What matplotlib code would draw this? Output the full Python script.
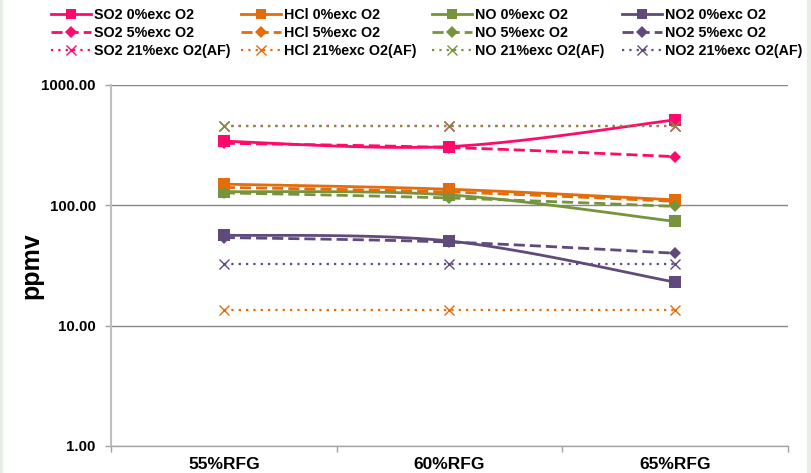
import numpy as np
import matplotlib
matplotlib.use('Agg')
import matplotlib.pyplot as plt
from matplotlib.lines import Line2D
from matplotlib.patches import Rectangle
from matplotlib.ticker import FixedLocator, NullFormatter

plt.rcParams['font.family'] = ['Liberation Sans', 'DejaVu Sans']
plt.rcParams['font.weight'] = 'bold'

# Data (ppmv)
categories = ['55%RFG', '60%RFG', '65%RFG']
species = ['SO2', 'HCl', 'NO', 'NO2']
cases = ['0%exc O2', '5%exc O2', '21%exc O2(AF)']

so2_0 = [341, 308, 513]
hcl_0 = [150, 136, 111]
no_0 = [130, 122, 73.5]
no2_0 = [56.5, 50.5, 23]

so2_5 = [328, 302, 254]
hcl_5 = [141, 129, 108]
no_5 = [127, 115, 98]
no2_5 = [54, 49.5, 40]

so2_21 = [456, 456, 456]
hcl_21 = [13.4, 13.4, 13.4]
no_21 = [456, 456, 456]
no2_21 = [32.3, 32.3, 32.3]

series = {
    ('SO2', 0): so2_0, ('HCl', 0): hcl_0, ('NO', 0): no_0, ('NO2', 0): no2_0,
    ('SO2', 1): so2_5, ('HCl', 1): hcl_5, ('NO', 1): no_5, ('NO2', 1): no2_5,
    ('SO2', 2): so2_21, ('HCl', 2): hcl_21, ('NO', 2): no_21, ('NO2', 2): no2_21,
}

colors = {'SO2': '#FF0A6C', 'HCl': '#E46C0A', 'NO': '#77933C', 'NO2': '#604A7B'}
styles = [
    dict(ls='-', lw=2.0, marker='s', ms=8, mew=0),
    dict(ls=(0, (4, 1.8)), lw=2.0, marker='D', ms=6.5, mew=0),
    dict(ls=(0, (1, 2.3)), lw=1.6, marker='x', ms=7.5, mew=1.0),
]


def smooth(xs, ys, n=40):
    # Excel-style smoothed line: bezier through points in (x, log y) space
    p = np.column_stack([xs, np.log10(ys)])
    pts = np.vstack([p[0], p, p[-1]])
    out = []
    for i in range(len(p) - 1):
        p0, p1, p2, p3 = pts[i], pts[i + 1], pts[i + 2], pts[i + 3]
        c1 = p1 + (p2 - p0) / 6.0
        c2 = p2 - (p3 - p1) / 6.0
        t = np.linspace(0, 1, n)[:, None]
        seg = ((1 - t) ** 3) * p1 + 3 * ((1 - t) ** 2) * t * c1 + 3 * (1 - t) * t ** 2 * c2 + t ** 3 * p2
        out.append(seg if i == 0 else seg[1:])
    out = np.vstack(out)
    return out[:, 0], 10 ** out[:, 1]


fig = plt.figure(figsize=(8.12, 4.73), dpi=100)
fig.patches.append(Rectangle((0.9938, 0), 0.0062, 1, transform=fig.transFigure,
                             color='#E8EDE8', zorder=0))
fig.patches.append(Rectangle((0, 0), 0.003, 1, transform=fig.transFigure,
                             color='#E8EDE8', zorder=0))
ax = fig.add_axes([0.1367, 0.0571, 0.8337, 0.7632])

x = np.arange(len(categories))
z = 3
for k in range(3):
    for sp in species:
        vals = series[(sp, k)]
        st = styles[k]
        sx, sy = smooth(x, vals)
        ax.plot(sx, sy, color=colors[sp], ls=st['ls'], lw=st['lw'],
                solid_capstyle='butt', dash_capstyle='butt', zorder=z)
        ax.plot(x, vals, ls='none', color=colors[sp], marker=st['marker'],
                ms=st['ms'], mew=st['mew'], zorder=z + 0.5)
        z += 1

ax.set_yscale('log')
ax.set_ylim(1, 1000)
ax.set_xlim(-0.5, 2.5)
ax.yaxis.set_major_locator(FixedLocator([1, 10, 100, 1000]))
ax.yaxis.set_minor_locator(FixedLocator([]))
ax.set_yticklabels(['1.00', '10.00', '100.00', '1000.00'])
ax.tick_params(axis='y', which='major', direction='out', length=4, width=1,
               color='#A0A0A0', labelsize=10.8, pad=7)
ax.grid(axis='y', color='#868686', lw=1.0, zorder=1)

ax.set_xticks(x)
ax.set_xticklabels(categories)
ax.set_xticks([-0.5, 0.5, 1.5, 2.5], minor=True)
ax.xaxis.set_minor_formatter(NullFormatter())
ax.tick_params(axis='x', which='major', length=0, labelsize=12.5, pad=8)
ax.tick_params(axis='x', which='minor', direction='out', length=4, width=1,
               color='#A0A0A0')

ax.spines['top'].set_visible(False)
ax.spines['right'].set_visible(False)
ax.spines['left'].set_color('#BFBFBF')
ax.spines['left'].set_linewidth(1.5)
ax.spines['bottom'].set_color('#A6A6A6')
ax.spines['bottom'].set_linewidth(1.0)
ax.set_axisbelow(True)

ax.set_ylabel('ppmv', fontsize=18, fontweight='bold')
ax.yaxis.set_label_coords(-0.1, 0.5)

# legend: one column per species, rows are the three O2 cases
col_x = [51, 241, 432, 622]
for ci, sp in enumerate(species):
    handles = []
    labels = []
    for k in range(3):
        st = styles[k]
        handles.append(Line2D([], [], color=colors[sp], ls=st['ls'], lw=st['lw'],
                              marker=st['marker'], ms=st['ms'] * 0.9, mew=st['mew']))
        labels.append(f'{sp} {cases[k]}')
    fig.legend(handles, labels, loc='upper left',
               bbox_to_anchor=(col_x[ci] / 812, 1 - 8 / 473),
               frameon=False, fontsize=10.3, handlelength=2.8, handletextpad=0.2,
               labelspacing=0.28, borderaxespad=0, borderpad=0)

fig.savefig('out.png', dpi=100)
